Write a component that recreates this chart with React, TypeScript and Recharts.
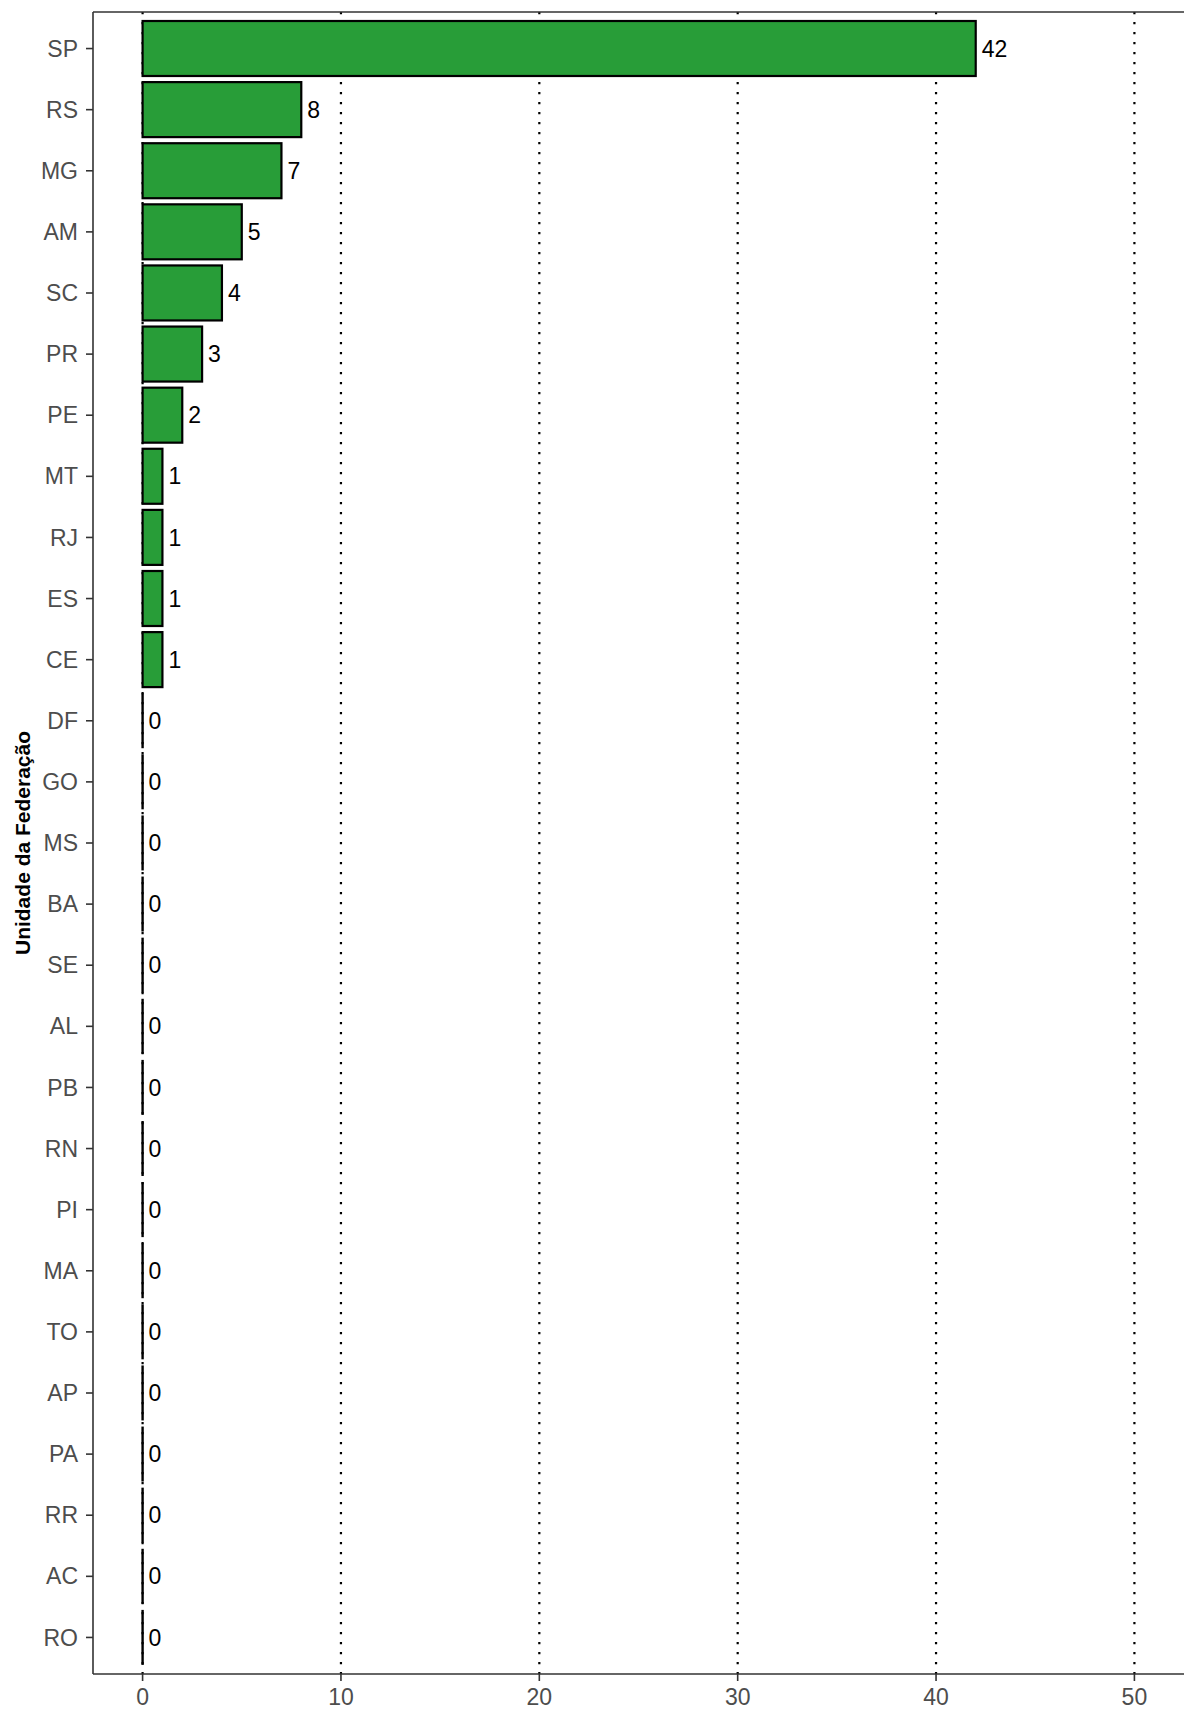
import React from 'react';
import {
  BarChart,
  Bar,
  XAxis,
  YAxis,
  CartesianGrid,
  LabelList,
} from 'recharts';

// Unidades da Federação, top to bottom as drawn
const UFS = [
  'SP', 'RS', 'MG', 'AM', 'SC', 'PR', 'PE', 'MT', 'RJ', 'ES', 'CE', 'DF', 'GO', 'MS',
  'BA', 'SE', 'AL', 'PB', 'RN', 'PI', 'MA', 'TO', 'AP', 'PA', 'RR', 'AC', 'RO',
];
const COUNTS = [42, 8, 7, 5, 4, 3, 2, 1, 1, 1, 1, 0, 0, 0, 0, 0, 0, 0, 0, 0, 0, 0, 0, 0, 0, 0, 0];
const X_TICKS = [0, 10, 20, 30, 40, 50];
const Y_TITLE = 'Unidade da Federação';

const FONT = '"Liberation Sans", Arial, sans-serif';
const BAR_FILL = '#289D38';
const AXIS_COLOR = '#333333';
const PLOT_TOP = 12;

const data = UFS.map((uf, i) => ({ uf, n: COUNTS[i] }));

// zero-count bars still show as a thin black stroke at x = 0
function BarShape(props: any) {
  const { x, y, width, height } = props;
  if (!width) {
    return <line x1={x} x2={x} y1={y} y2={y + height} stroke="#000" strokeWidth={2.4} />;
  }
  return (
    <rect x={x} y={y} width={width} height={height} fill={BAR_FILL} stroke="#000" strokeWidth={2.2} />
  );
}

function YTitle({ viewBox }: any) {
  const cx = 22;
  const cy = viewBox.y + viewBox.height / 2;
  return (
    <text
      x={cx}
      y={cy}
      transform={`rotate(-90, ${cx}, ${cy})`}
      textAnchor="middle"
      dominantBaseline="central"
      fontFamily={FONT}
      fontWeight="bold"
      fontSize={21}
      fill="#000"
    >
      {Y_TITLE}
    </text>
  );
}

export default function App() {
  return (
    <div
      style={{
        position: 'fixed',
        left: 0,
        top: 0,
        width: 1184,
        height: 1713,
        overflow: 'hidden',
        background: '#fff',
      }}
    >
      <BarChart
        width={1184}
        height={1713}
        data={data}
        layout="vertical"
        margin={{ top: PLOT_TOP, right: 0, bottom: 0, left: 0 }}
        barSize={55}
      >
        <CartesianGrid
          horizontal={false}
          vertical
          verticalValues={X_TICKS}
          stroke="#000"
          strokeWidth={2.2}
          strokeDasharray="2.2 7.8"
        />
        {/* solid line along the top of the panel */}
        <CartesianGrid
          horizontal
          vertical={false}
          horizontalPoints={[PLOT_TOP]}
          stroke={AXIS_COLOR}
          strokeWidth={1.6}
        />
        <XAxis
          type="number"
          domain={[-2.5, 52.5]}
          ticks={X_TICKS}
          allowDataOverflow
          height={39}
          axisLine={{ stroke: AXIS_COLOR, strokeWidth: 1.6 }}
          tickLine={{ stroke: AXIS_COLOR, strokeWidth: 1.6 }}
          tickSize={7}
          tickMargin={8}
          tick={{ fill: '#4D4D4D', fontSize: 23, fontFamily: FONT }}
        />
        <YAxis
          type="category"
          dataKey="uf"
          width={93}
          interval={0}
          padding={{ top: 6, bottom: 6 }}
          axisLine={{ stroke: AXIS_COLOR, strokeWidth: 1.6 }}
          tickLine={{ stroke: AXIS_COLOR, strokeWidth: 1.6 }}
          tickSize={7}
          tickMargin={8}
          tick={{ fill: '#4D4D4D', fontSize: 23, fontFamily: FONT }}
          label={{ content: YTitle }}
        />
        <Bar dataKey="n" shape={BarShape} isAnimationActive={false}>
          <LabelList
            dataKey="n"
            position="right"
            offset={6}
            fill="#000"
            fontSize={23}
            fontFamily={FONT}
          />
        </Bar>
      </BarChart>
    </div>
  );
}
